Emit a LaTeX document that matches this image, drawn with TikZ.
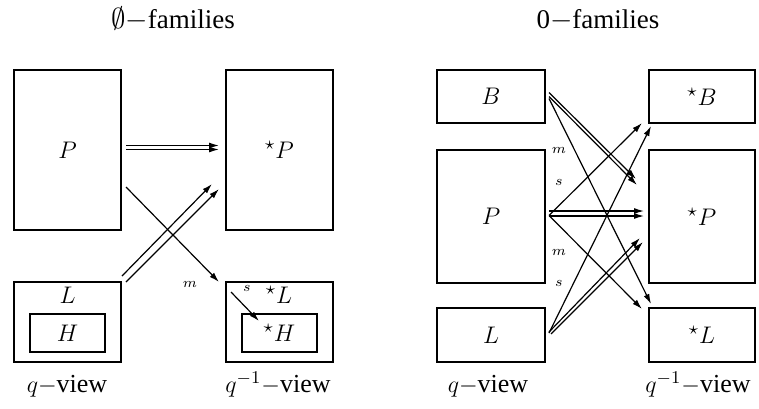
\documentclass[tikz,border=0pt]{standalone}
\usepackage{fontspec}
\setmainfont{Liberation Serif}
\usetikzlibrary{positioning,arrows.meta,calc}

\begin{document}
\begin{tikzpicture}[x=0.5pt,y=-0.5pt,font=\fontsize{13}{15}\selectfont,
    box/.style={draw,line width=1pt,inner sep=0pt},
    arr/.style={-{Latex[length=5pt,width=3pt]},line width=0.6pt},
    lab/.style={font=\fontsize{7.5}{8}\selectfont,inner sep=0pt},
    title/.style={anchor=base,font=\fontsize{13.5}{15}\selectfont}]
    \useasboundingbox (0,0) rectangle (759,408);

    % left: emptyset-families
    \node[title] (t1) at (173,28) {$\emptyset-$families};
    \node[box,minimum width=53.5pt,minimum height=80pt] (P) at (67.5,150) {$P$};
    \node[box,minimum width=53.5pt,minimum height=80pt] (sP) at (279.5,150) {${}^\star P$};
    \node[box,minimum width=53.5pt,minimum height=40pt] (Lb) at (67.5,322) {};
    \node[box,minimum width=53.5pt,minimum height=40pt] (sLb) at (279.5,322) {};
    \node (Lt) at (67.5,295) {$L$};
    \node (sLt) at (279,295) {${}^\star L$};
    \node[box,minimum width=37.5pt,minimum height=19pt] (H) at (67.5,333) {$H$};
    \node[box,minimum width=37.5pt,minimum height=19pt] (sH) at (279.5,333) {${}^\star H$};

    \foreach \d in {-4.5,-0.5}
        \draw[arr] ($(P.east)+(4,\d)$) -- ($(sP.west)+(-6,\d)$);
    \draw[arr] ($(P.east)+(4,37)$) -- ($(sLb.north west)+(-6,1)$);
    \draw[arr] ($(Lb.north east)+(0,-5)$) -- ($(sP.south west)+(-13,-47)$);
    \draw[arr] ($(Lb.north east)+(4,1)$) -- ($(sP.south west)+(-6,-42)$);
    \draw[arr] ($(sLb.north west)+(6,11)$) -- ($(sH.north west)+(18,8)$);
    \node[lab] (m1) at (190,284) {$m$};
    \node[lab] (s1) at (247,288) {$s$};

    \node[anchor=base] (v1) at (67,392) {$q-$view};
    \node[anchor=base] (v2) at (278,392) {$q^{-1}-$view};

    % right: 0-families
    \node[title] (t2) at (598,28) {0$-$families};
    \node[box,minimum width=54pt,minimum height=26.5pt] (B) at (491,96.5) {$B$};
    \node[box,minimum width=54pt,minimum height=66.5pt] (P2) at (491,216.5) {$P$};
    \node[box,minimum width=54pt,minimum height=27pt] (L2) at (491,335) {$L$};
    \node[box,minimum width=53pt,minimum height=26.5pt] (sB) at (702,96.5) {${}^\star B$};
    \node[box,minimum width=53pt,minimum height=66.5pt] (sP2) at (702,216.5) {${}^\star P$};
    \node[box,minimum width=53pt,minimum height=27pt] (sL2) at (702,335) {${}^\star L$};

    \draw[arr] ($(B.east)+(3,-4)$) -- ($(sP2.north west)+(-12,30)$);
    \draw[arr] ($(B.east)+(3,0)$) -- ($(sP2.north west)+(-11,36)$);
    \draw[arr] ($(B.east)+(3,2)$) -- ($(sL2.north west)+(3,-3)$);
    \foreach \d in {-5.5,-0.5}
        \draw[arr] ($(P2.east)+(3,\d)$) -- ($(sP2.west)+(-4,\d)$);
    \draw[arr] ($(P2.east)+(3,-1)$) -- ($(sB.south west)+(-6,-1)$);
    \draw[arr] ($(P2.east)+(3,-1)$) -- ($(sL2.north west)+(-6,2)$);
    \draw[arr] ($(L2.east)+(3,-3)$) -- ($(sP2.south west)+(-8,-46)$);
    \draw[arr] ($(L2.east)+(5,-1)$) -- ($(sP2.south west)+(-5,-42)$);
    \draw[arr] ($(L2.east)+(3,-2)$) -- ($(sB.south west)+(3,2)$);
    \foreach \t/\y [count=\i] in {m/150,s/182,m/252,s/283}
        \node[lab] (r\i) at (559,\y) {$\t$};

    \node[anchor=base] (v3) at (488,392) {$q-$view};
    \node[anchor=base] (v4) at (698,392) {$q^{-1}-$view};
\end{tikzpicture}
\end{document}
